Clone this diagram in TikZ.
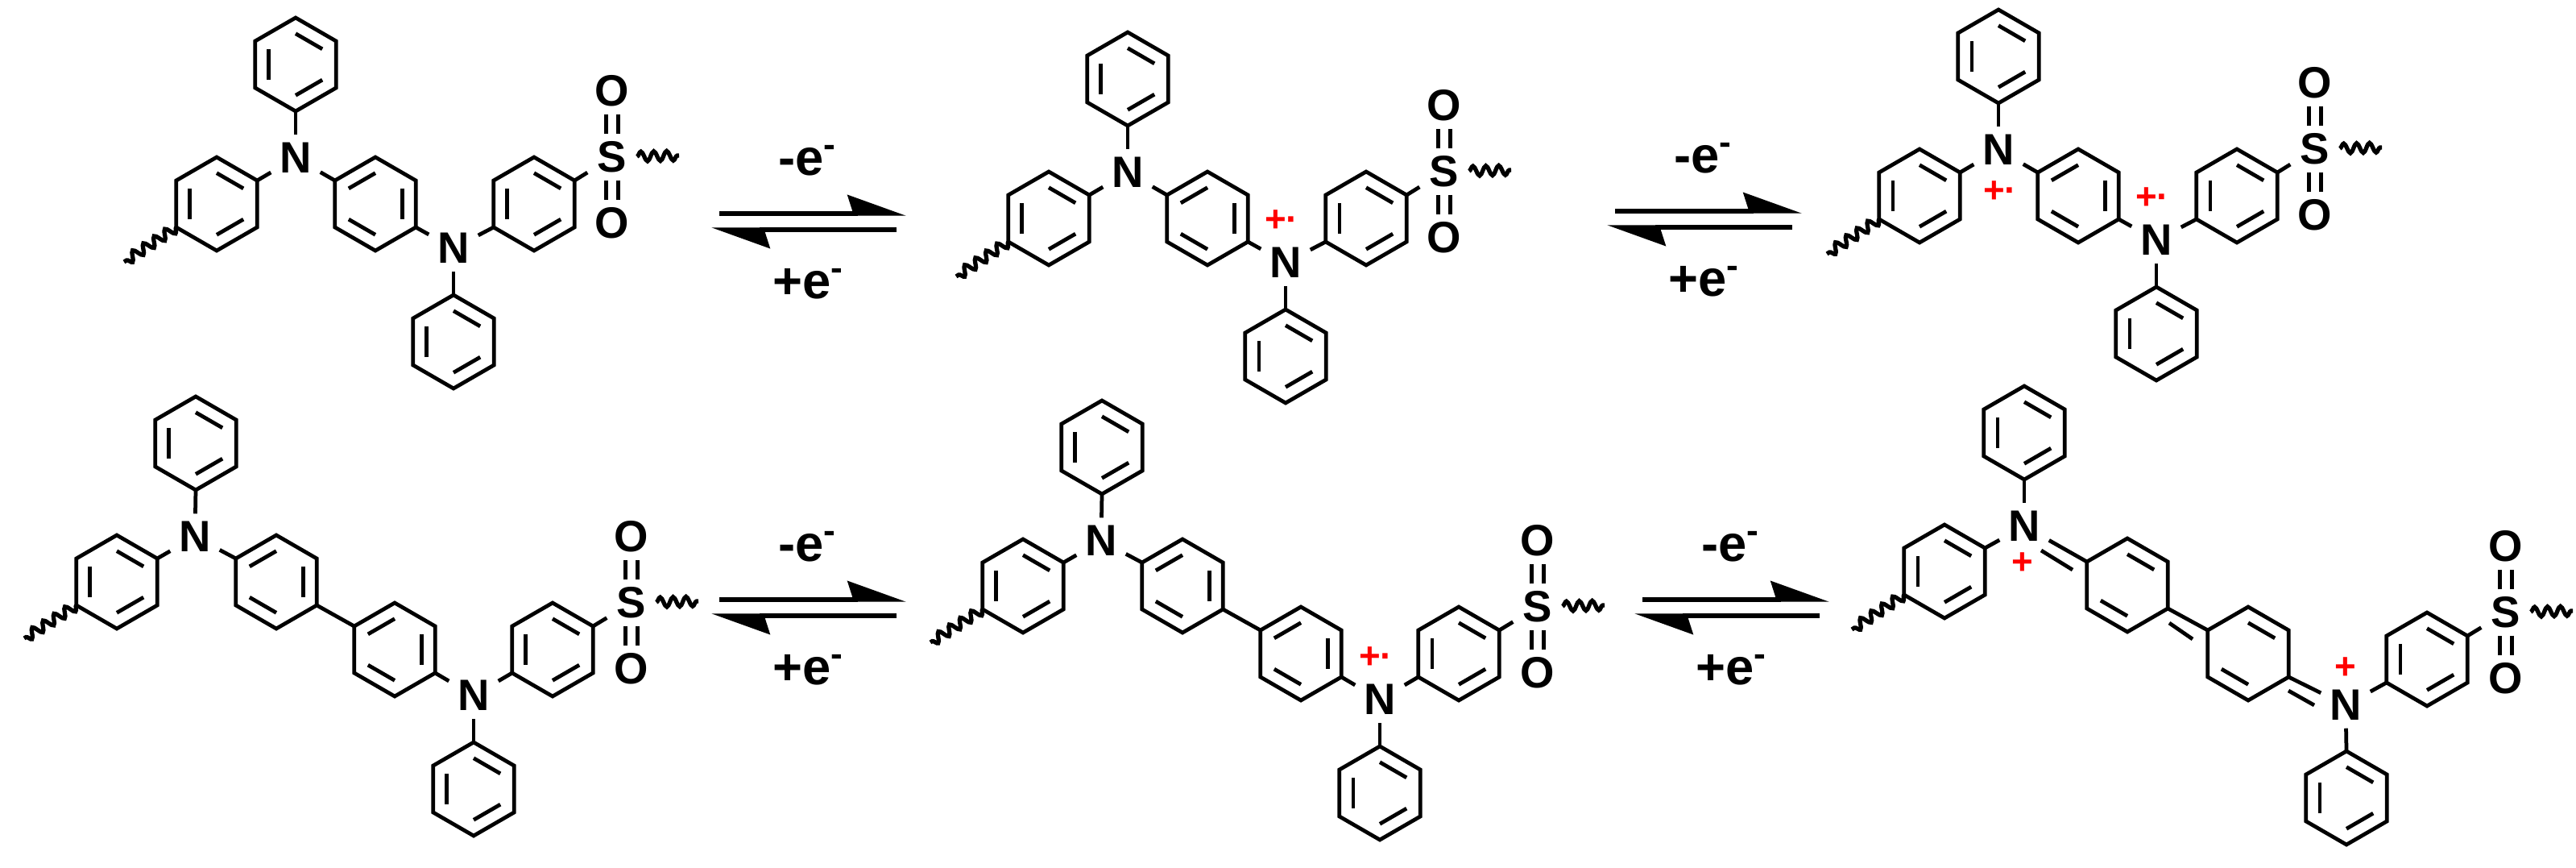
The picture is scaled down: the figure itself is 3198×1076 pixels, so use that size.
\documentclass[tikz,border=0pt]{standalone}
\usepackage{fontspec}
\setmainfont{Liberation Sans}
\usetikzlibrary{calc,arrows.meta,decorations.pathmorphing}

\tikzset{
  bond/.style={line width=1.35pt},
  dbond/.style={double,double distance=.1cm,line width=1.35pt},
  atom/.style={inner sep=0pt,minimum width=.6cm,minimum height=.56cm,font=\fontsize{15.5}{18}\selectfont\bfseries},
  charge/.style={inner sep=0pt,text=red,font=\fontsize{13}{15}\selectfont\bfseries},
  lbl/.style={inner sep=0pt,anchor=base,font=\fontsize{18}{20}\selectfont\bfseries},
  wavy/.style={line width=1.5pt,decorate,decoration={snake,segment length=.16cm,amplitude=.06cm}},
  eqarrow/.style={line width=1.55pt,-{Stealth[left,length=.65cm,width=.46cm,inset=.07cm]}},
}

% ring: name, centre, edges with an inner line
\newcommand{\benz}[3]{
  \coordinate (#1) at (#2);
  \foreach \k/\ang in {t/270,ur/330,lr/30,b/90,ll/150,ul/210}
    \coordinate (#1\k) at ($(#1)+(\ang:58)$);
  \draw[bond] (#1t) -- (#1ur) -- (#1lr) -- (#1b) -- (#1ll) -- (#1ul) -- cycle;
  \foreach \p/\q in {#3}
    \draw[bond] ($(#1)!.66!(#1\p)$) -- ($(#1)!.66!(#1\q)$);
}

% end group: sulfonyl on a ring
\newcommand{\sulfonyl}[4]{
  \node[atom] (#1s) at (#3,#4) {S};
  \node[atom] (#1o1) at (#3,#4-82) {O};
  \node[atom] (#1o2) at (#3,#4+82) {O};
  \coordinate (#1w2) at (#3+83,#4-2);
  \draw[bond] (#2) -- (#1s);
  \draw[dbond] (#1s) -- (#1o1);
  \draw[dbond] (#1s) -- (#1o2);
  \draw[wavy] (#1s) -- (#1w2);
}

% one benzene ring between the amines
\newcommand{\molA}[3]{
  \benz{#1r1}{#2,#3}{t/ur,ul/ll,lr/b}
  \benz{#1r2}{#2+197,#3}{t/ul,ur/lr,ll/b}
  \benz{#1r3}{#2+394,#3}{t/ur,ul/ll,lr/b}
  \benz{#1p1}{#2+98,#3-173}{t/ur,ul/ll,lr/b}
  \benz{#1p2}{#2+294,#3+171}{t/ur,ul/ll,lr/b}
  \node[atom] (#1n1) at (#2+98,#3-57) {N};
  \node[atom] (#1n2) at (#2+294,#3+55) {N};
  \coordinate (#1w1) at (#2-115,#3+72);
  \draw[bond] (#1r1ur) -- (#1n1);
  \draw[bond] (#1r2ul) -- (#1n1);
  \draw[bond] (#1p1b) -- (#1n1);
  \draw[bond] (#1r2lr) -- (#1n2);
  \draw[bond] (#1r3ll) -- (#1n2);
  \draw[bond] (#1p2t) -- (#1n2);
  \draw[wavy] (#1r1ll) -- (#1w1);
  \sulfonyl{#1}{#1r3ur}{#2+491}{#3-58}
}

% biphenyl between the amines
\newcommand{\molB}[3]{
  \benz{#1r1}{#2,#3}{t/ur,ul/ll,lr/b}
  \benz{#1r2}{#2+198,#3}{t/ul,ur/lr,ll/b}
  \benz{#1r3}{#2+345,#3+84}{t/ul,ur/lr,ll/b}
  \benz{#1r4}{#2+541,#3+84}{t/ur,ul/ll,lr/b}
  \benz{#1p1}{#2+98,#3-172}{t/ur,ul/ll,lr/b}
  \benz{#1p2}{#2+443,#3+257}{t/ur,ul/ll,lr/b}
  \node[atom] (#1n1) at (#2+97,#3-56) {N};
  \node[atom] (#1n2) at (#2+443,#3+141) {N};
  \coordinate (#1w1) at (#2-115,#3+70);
  \draw[bond] (#1r1ur) -- (#1n1);
  \draw[bond] (#1r2ul) -- (#1n1);
  \draw[bond] (#1p1b) -- (#1n1);
  \draw[bond] (#1r2lr) -- (#1r3ul);
  \draw[bond] (#1r3lr) -- (#1n2);
  \draw[bond] (#1r4ll) -- (#1n2);
  \draw[bond] (#1p2t) -- (#1n2);
  \draw[wavy] (#1r1ll) -- (#1w1);
  \sulfonyl{#1}{#1r4ur}{#2+639}{#3+26}
}

% pair of half arrows with their labels
\newcommand{\eqm}[3]{
  \coordinate (#1a) at (#2,#3);
  \coordinate (#1b) at (#2+232,#3);
  \coordinate (#1c) at (#2+220,#3+20);
  \coordinate (#1d) at (#2-10,#3+20);
  \draw[eqarrow] (#1a) -- (#1b);
  \draw[eqarrow] (#1c) -- (#1d);
  \node[lbl] (#1m) at (#2+110,#3-48) {-e\textsuperscript{-}};
  \node[lbl] (#1p) at (#2+111,#3+105) {+e\textsuperscript{-}};
}

\begin{document}
\begin{tikzpicture}[x=.01cm,y=-.01cm]
  \useasboundingbox (0,0) rectangle (3198,1076);

  \molA{aa}{269}{253}
  \molA{ab}{1302}{271}
  \molA{ac}{2383}{243}
  \molB{ba}{145}{722}
  \molB{bb}{1270}{727}

  % quinoid one
  \benz{qr1}{2414,709}{t/ur,ul/ll,lr/b}
  \benz{qr2}{2641,726}{t/ur,ll/b}
  \benz{qr3}{2791,811}{t/ur,ll/b}
  \benz{qr4}{3013,818}{t/ur,ul/ll,lr/b}
  \benz{qp1}{2513,537}{t/ur,ul/ll,lr/b}
  \benz{qp2}{2913,990}{t/ur,ul/ll,lr/b}
  \node[atom] (qn1) at (2513,653) {N};
  \node[atom] (qn2) at (2912,875) {N};
  \coordinate (qw1) at (2299,781);
  \coordinate (qd1a) at (2534,683);
  \coordinate (qd1b) at (2573,707);
  \coordinate (qd2a) at (2693,773);
  \coordinate (qd2b) at (2722,793);
  \coordinate (qd3a) at (2841,857);
  \coordinate (qd3b) at (2873,875);
  \draw[bond] (qr1ur) -- (qn1);
  \draw[bond] (qp1b) -- (qn1);
  \draw[bond] (qr2ul) -- (qn1);
  \draw[bond] (qd1a) -- (qd1b);
  \draw[bond] (qr2lr) -- (qr3ul);
  \draw[bond] (qd2a) -- (qd2b);
  \draw[bond] (qr3lr) -- (qn2);
  \draw[bond] (qd3a) -- (qd3b);
  \draw[bond] (qr4ll) -- (qn2);
  \draw[bond] (qp2t) -- (qn2);
  \draw[wavy] (qr1ll) -- (qw1);
  \sulfonyl{q}{qr4ur}{3111}{760}

  % charges
  \node[charge] (cab) at ($(abn2)+(-5,-52)$) {+·};
  \node[charge] (cac1) at ($(acn1)+(2,52)$) {+·};
  \node[charge] (cac2) at ($(acn2)+(-5,-52)$) {+·};
  \node[charge] (cbb) at ($(bbn2)+(-5,-52)$) {+·};
  \node[charge] (cq1) at (2511,699) {+};
  \node[charge] (cq2) at (2912,829) {+};

  \eqm{ea}{893}{265}
  \eqm{eb}{2005}{262}
  \eqm{ec}{893}{744}
  \eqm{ed}{2039}{744}
\end{tikzpicture}
\end{document}
